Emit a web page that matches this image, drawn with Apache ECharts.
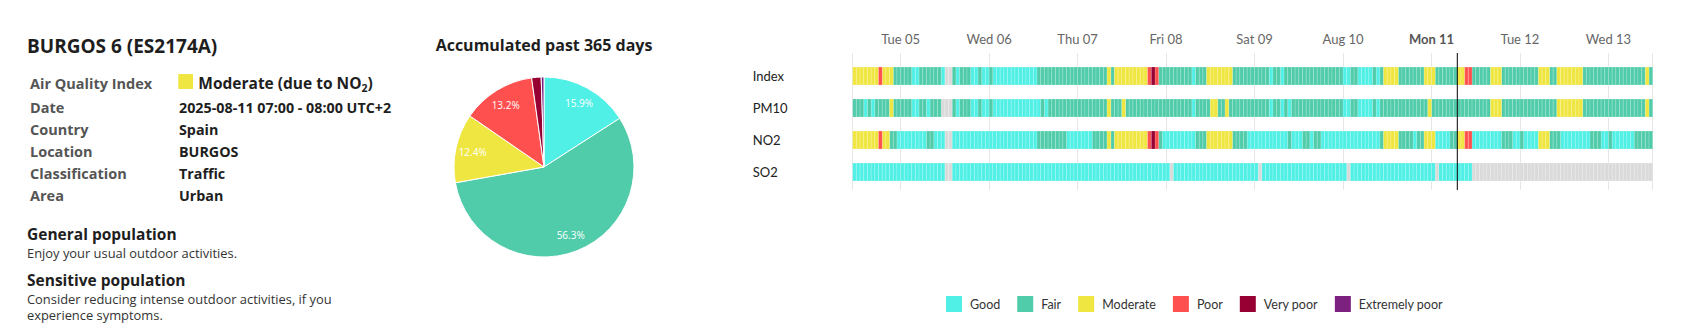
<!DOCTYPE html>
<html>
<head>
<meta charset="utf-8">
<title>BURGOS 6 (ES2174A) – Air Quality</title>
<script src="https://cdn.jsdelivr.net/npm/echarts@6.0.0/dist/echarts.min.js"></script>
<style>
  html, body { margin: 0; padding: 0; background: #fff; }
  #chart { width: 1681px; height: 323px; }
</style>
</head>
<body>
<div id="chart"></div>
<script>
// ---- Levels of the European Air Quality Index (0 = no data) ----
const levelNames = ['No data', 'Good', 'Fair', 'Moderate', 'Poor', 'Very poor', 'Extremely poor'];
const levelColors = ['#dadada', '#50f0e6', '#50ccaa', '#f0e641', '#ff5050', '#960032', '#7d2181'];

// ---- Station info ----
const stationName = 'BURGOS 6 (ES2174A)';
const infoLabels = ['Air Quality Index', 'Date', 'Country', 'Location', 'Classification', 'Area'];
const infoValues = ['Moderate (due to NO2)', '2025-08-11 07:00 - 08:00 UTC+2', 'Spain', 'BURGOS', 'Traffic', 'Urban'];
const currentLevel = 3;
const adviceTitles = ['General population', 'Sensitive population'];
const adviceTexts = [
  ['Enjoy your usual outdoor activities.'],
  ['Consider reducing intense outdoor activities, if you', 'experience symptoms.']
];

// ---- Share of hours per level over the past 365 days (%) ----
const pieTitle = 'Accumulated past 365 days';
const pieShares = [15.9, 56.3, 12.4, 13.2, 1.7, 0.5];

// ---- Hourly levels, from 2025-08-04 11:00 to 2025-08-13 11:00 (one line per day) ----
const rowNames = ['Index', 'PM10', 'NO2', 'SO2'];
const dayLabels = ['Tue 05', 'Wed 06', 'Thu 07', 'Fri 08', 'Sat 09', 'Aug 10', 'Mon 11', 'Tue 12', 'Wed 13'];
const todayLabel = 'Mon 11';

const indexLevels = [
  3,3,3,3,3,3,3,4,3,3,3,2,2,
  2,2,2,1,1,2,2,2,2,2,2,1,0,0,2,1,2,2,2,1,1,2,1,1,
  2,1,1,1,1,1,1,1,1,1,1,1,1,2,2,2,2,2,2,2,2,2,2,2,
  2,2,2,2,2,2,2,2,3,2,3,3,3,3,3,3,3,3,3,4,5,4,2,2,
  2,2,2,2,2,2,2,1,2,2,2,3,3,3,3,3,3,3,2,2,2,2,2,2,
  2,2,2,2,1,2,2,1,2,2,2,2,2,2,2,2,2,2,2,2,2,2,2,2,
  1,1,2,2,1,1,1,1,2,1,2,3,3,3,3,2,2,2,2,2,2,2,3,3,
  3,2,2,2,2,2,2,3,3,4,4,2,2,2,2,2,3,3,3,2,2,2,2,2,
  2,2,2,2,2,3,3,3,2,2,3,3,3,3,3,3,3,2,2,2,2,2,2,2,
  2,2,2,2,2,2,2,2,2,2,3,2
];
const pm10Levels = [
  2,2,2,1,2,1,2,2,2,2,3,2,2,
  2,2,2,1,1,2,2,1,2,2,2,0,0,0,2,1,2,2,2,1,1,2,1,1,
  2,1,1,1,1,1,1,1,1,1,1,1,1,1,2,1,2,2,2,2,2,2,2,2,
  2,2,2,2,2,2,2,2,3,2,2,2,3,2,2,2,2,2,2,2,2,2,2,2,
  2,2,2,2,2,2,2,1,2,2,2,2,3,3,2,2,3,2,2,2,2,2,2,2,
  2,2,2,2,1,2,2,1,2,1,2,2,2,2,2,2,2,2,2,2,2,2,2,2,
  1,1,2,2,1,1,1,1,2,1,2,2,2,2,2,2,2,2,2,2,2,2,2,3,
  2,2,2,2,2,2,2,2,2,2,2,2,2,2,2,2,3,3,3,2,2,2,2,2,
  2,2,2,2,2,2,2,2,2,2,3,3,3,3,3,3,3,2,2,2,2,2,2,2,
  2,2,2,2,2,2,2,2,2,2,3,2
];
const no2Levels = [
  3,3,3,3,3,3,3,4,3,3,2,2,1,
  1,1,1,1,1,1,1,2,2,1,1,1,0,0,1,1,1,1,1,1,1,1,1,1,
  1,1,1,1,1,1,1,1,1,1,1,1,1,2,2,2,2,2,2,2,2,1,1,1,
  1,1,1,1,2,2,2,2,3,2,3,3,3,3,3,3,3,3,3,4,5,4,2,1,
  1,1,1,1,1,1,1,1,2,2,2,3,3,3,3,3,3,3,2,2,2,2,1,1,
  1,1,1,1,1,1,1,1,1,2,1,1,1,2,2,1,2,2,1,1,1,1,1,1,
  1,1,1,1,1,1,1,1,1,1,2,3,3,3,3,2,2,2,2,1,2,2,3,3,
  3,1,1,1,1,2,2,3,3,4,4,1,1,1,1,1,1,1,1,2,2,2,1,1,
  2,1,1,1,1,3,3,3,2,2,2,1,1,1,1,1,1,1,1,2,2,2,1,1,
  2,1,1,1,1,1,1,2,2,2,2,2
];
const so2Levels = [
  1,1,1,1,1,1,1,1,1,1,1,1,1,
  1,1,1,1,1,1,1,1,1,1,1,1,0,0,1,1,1,1,1,1,1,1,1,1,
  1,1,1,1,1,1,1,1,1,1,1,1,1,1,1,1,1,1,1,1,1,1,1,1,
  1,1,1,1,1,1,1,1,1,1,1,1,1,1,1,1,1,1,1,1,1,1,1,1,
  1,0,1,1,1,1,1,1,1,1,1,1,1,1,1,1,1,1,1,1,1,1,1,1,
  1,0,1,1,1,1,1,1,1,1,1,1,1,1,1,1,1,1,1,1,1,1,1,1,
  1,0,1,1,1,1,1,1,1,1,1,1,1,1,1,1,1,1,1,1,1,1,1,1,
  1,0,1,1,1,1,1,1,1,1,1,0,0,0,0,0,0,0,0,0,0,0,0,0,
  0,0,0,0,0,0,0,0,0,0,0,0,0,0,0,0,0,0,0,0,0,0,0,0,
  0,0,0,0,0,0,0,0,0,0,0,0
];

// ---- Time frame (clock times kept as UTC values) ----
const HOUR = 3600 * 1000;
const DAY = 24 * HOUR;
const startTime = Date.UTC(2025, 7, 4, 11);
const endTime = Date.UTC(2025, 7, 13, 12);
const nowTime = Date.UTC(2025, 7, 11, 7);
const firstMidnight = Date.UTC(2025, 7, 5);

// ---- Styling ----
const SANS = "'Open Sans', 'Noto Sans', sans-serif";
const ROUND = "Lato, 'Noto Sans', sans-serif";
const stripLeft = 852.7;
const stripWidth = 800;
const cellShare = 0.5625;

const chart = echarts.init(document.getElementById('chart'), null, { renderer: 'svg' });

// One row of the strip per pollutant; one rectangle per hour
function drawCell(params, api) {
  const t = api.value(0);
  const row = api.value(1);
  const a = api.coord([t, row]);
  const b = api.coord([t + HOUR, row]);
  const h = api.size([0, 1])[1] * cellShare;
  return {
    type: 'rect',
    shape: { x: a[0], y: a[1] - h / 2, width: b[0] - a[0], height: h },
    style: { fill: api.visual('color'), stroke: 'rgba(255,255,255,0.35)', lineWidth: 0.5 }
  };
}

const rows = [indexLevels, pm10Levels, no2Levels, so2Levels];
const cellSeries = levelNames.map(function (name, lvl) {
  const data = [];
  rows.forEach(function (levels, r) {
    levels.forEach(function (v, k) {
      if (v === lvl) data.push([startTime + k * HOUR, r]);
    });
  });
  return {
    type: 'custom',
    name: name,
    xAxisIndex: 1,
    yAxisIndex: 1,
    encode: { x: 0, y: 1 },
    renderItem: drawCell,
    itemStyle: { color: levelColors[lvl] },
    data: data,
    silent: true,
    z: 2
  };
});

// Vertical marker at the current hour
const nowSeries = {
  type: 'custom',
  name: 'now',
  xAxisIndex: 0,
  yAxisIndex: 0,
  encode: { x: 0, y: 1 },
  data: [[nowTime, 0]],
  silent: true,
  z: 10,
  renderItem: function (params, api) {
    const x = api.coord([api.value(0), 0])[0];
    const cs = params.coordSys;
    return {
      type: 'line',
      shape: { x1: x, y1: cs.y, x2: x, y2: cs.y + cs.height },
      style: { stroke: '#000', lineWidth: 1 }
    };
  }
};

const pieData = pieShares.map(function (v, i) {
  return { name: levelNames[i + 1], value: v, itemStyle: { color: levelColors[i + 1] } };
});
const pieSeries = {
  type: 'pie',
  name: 'share',
  center: [544, 167],
  radius: 90,
  startAngle: 90,
  clockwise: true,
  silent: true,
  animation: false,
  label: { show: false },
  labelLine: { show: false },
  itemStyle: { borderColor: '#fff', borderWidth: 1 },
  emphasis: { disabled: true },
  data: pieData
};
// Percent labels placed on the outer part of each slice
const pieLabelSeries = {
  type: 'pie',
  name: 'share labels',
  center: [544, 167],
  radius: [50, 90],
  startAngle: 90,
  clockwise: true,
  silent: true,
  animation: false,
  labelLine: { show: false },
  emphasis: { disabled: true },
  label: {
    show: true,
    position: 'inside',
    formatter: '{c}%',
    color: '#fff',
    fontFamily: SANS,
    fontSize: 10,
    textBorderWidth: 0
  },
  itemStyle: { color: 'rgba(0,0,0,0)', borderWidth: 0 },
  data: pieShares.map(function (v, i) {
    return { name: levelNames[i + 1], value: v, label: { show: v >= 5 } };
  })
};

// ---- Left information panel ----
const graphics = [];
graphics.push({
  type: 'text', x: 27, y: 46,
  style: { text: stationName, fontFamily: SANS, fontSize: 19, fontWeight: 700, fill: '#1e1e1e', verticalAlign: 'middle' }
});
const infoRowY = [83.3, 107, 129, 151, 173, 195];
infoLabels.forEach(function (lab, i) {
  graphics.push({
    type: 'text', x: 30, y: infoRowY[i],
    style: { text: lab, fontFamily: SANS, fontSize: 14.5, fontWeight: 700, fill: '#555', verticalAlign: 'middle' }
  });
});
graphics.push({
  type: 'rect', shape: { x: 178.3, y: 74, width: 14.7, height: 15 },
  style: { fill: levelColors[currentLevel] }
});
graphics.push({
  type: 'text', x: 198.3, y: infoRowY[0],
  style: {
    text: '{a|Moderate (due to NO}{s|2}{a|)}',
    verticalAlign: 'middle',
    rich: {
      a: { fontFamily: SANS, fontSize: 15.5, fontWeight: 700, fill: '#1e1e1e', lineHeight: 20, verticalAlign: 'middle' },
      s: { fontFamily: SANS, fontSize: 10.5, fontWeight: 700, fill: '#1e1e1e', lineHeight: 12, verticalAlign: 'bottom' }
    }
  }
});
infoValues.forEach(function (val, i) {
  if (i === 0) return;
  graphics.push({
    type: 'text', x: 179, y: infoRowY[i],
    style: { text: val, fontFamily: SANS, fontSize: 14.3, fontWeight: 700, fill: '#1e1e1e', verticalAlign: 'middle' }
  });
});
const adviceTitleY = [234, 280];
const adviceLineY = [[253], [299, 314.5]];
adviceTitles.forEach(function (t, i) {
  graphics.push({
    type: 'text', x: 27, y: adviceTitleY[i],
    style: { text: t, fontFamily: SANS, fontSize: 15.5, fontWeight: 700, fill: '#1e1e1e', verticalAlign: 'middle' }
  });
  adviceTexts[i].forEach(function (line, j) {
    graphics.push({
      type: 'text', x: 27, y: adviceLineY[i][j],
      style: { text: line, fontFamily: SANS, fontSize: 12.9, fontWeight: 400, fill: '#333', verticalAlign: 'middle' }
    });
  });
});
graphics.push({
  type: 'text', x: 544, y: 45,
  style: { text: pieTitle, fontFamily: SANS, fontSize: 16, fontWeight: 700, fill: '#1e1e1e', align: 'center', verticalAlign: 'middle' }
});

const option = {
  useUTC: true,
  animation: false,
  backgroundColor: '#fff',
  graphic: graphics,
  legend: {
    data: levelNames.slice(1),
    left: 946,
    top: 296,
    padding: 0,
    itemWidth: 16,
    itemHeight: 16,
    itemGap: 17,
    icon: 'rect',
    selectedMode: false,
    textStyle: { fontFamily: ROUND, fontSize: 12.5, color: '#333', padding: [0, 0, 0, 3] }
  },
  grid: [
    { left: stripLeft, top: 53, width: stripWidth, height: 137, outerBoundsMode: 'none' },
    { left: stripLeft, top: 60, width: stripWidth, height: 128, outerBoundsMode: 'none' }
  ],
  xAxis: [
    {
      type: 'time',
      gridIndex: 0,
      position: 'top',
      min: startTime,
      max: endTime,
      minInterval: DAY,
      maxInterval: DAY,
      axisLine: { show: false },
      axisTick: { show: false },
      splitLine: { show: true, lineStyle: { color: '#e6e6e6', width: 1 } },
      axisLabel: {
        showMinLabel: false,
        showMaxLabel: false,
        margin: 7.5,
        fontFamily: ROUND,
        fontSize: 13,
        color: '#666',
        formatter: function (value) {
          const i = Math.round((value - firstMidnight) / DAY);
          const label = dayLabels[i];
          if (label === undefined) return '';
          return label === todayLabel ? '{today|' + label + '}' : label;
        },
        rich: { today: { fontFamily: ROUND, fontSize: 13, fontWeight: 'bold', color: '#555' } }
      }
    },
    {
      type: 'time',
      gridIndex: 1,
      min: startTime,
      max: endTime,
      show: false
    }
  ],
  yAxis: [
    { type: 'value', gridIndex: 0, min: 0, max: 1, show: false },
    {
      type: 'category',
      gridIndex: 1,
      data: rowNames,
      inverse: true,
      axisLine: { show: false },
      axisTick: { show: false },
      splitLine: { show: false },
      axisLabel: { align: 'left', margin: 100, padding: [0, 0, 4, 0], fontFamily: ROUND, fontSize: 13, color: '#222' }
    }
  ],
  series: cellSeries.concat([nowSeries, pieSeries, pieLabelSeries])
};

chart.setOption(option);
</script>
</body>
</html>
